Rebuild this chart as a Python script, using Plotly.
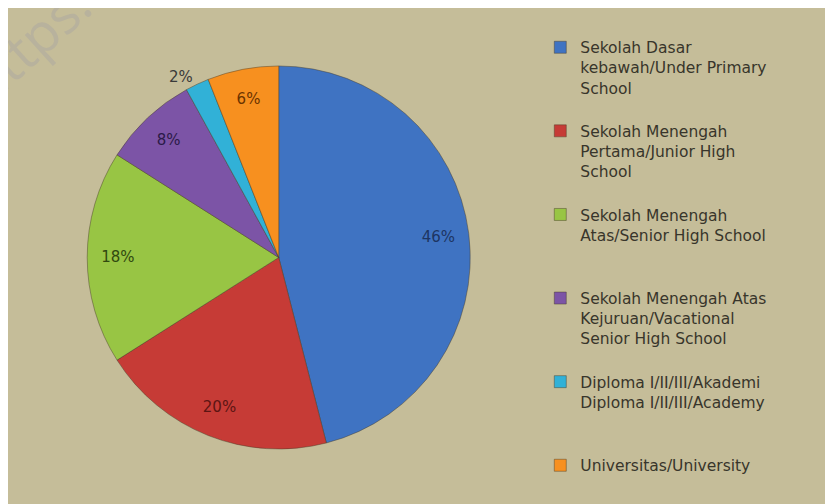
import plotly.graph_objects as go

# education level shares (%)
categories = [
    "Sekolah Dasar<br>kebawah/Under Primary<br>School<br> ",
    "Sekolah Menengah<br>Pertama/Junior High<br>School<br> ",
    "Sekolah Menengah<br>Atas/Senior High School<br> <br> ",
    "Sekolah Menengah Atas<br>Kejuruan/Vacational<br>Senior High School<br> ",
    "Diploma I/II/III/Akademi<br>Diploma I/II/III/Academy<br> <br> ",
    "Universitas/University",
]
shares = [46, 20, 18, 8, 2, 6]
labels_txt = ["46%", "20%", "18%", "8%", "2%", "6%"]

colors = ["#3f73c2", "#c63b36", "#98c544", "#7c54a6", "#31b1d7", "#f7901f"]
text_colors = ["#1d3563", "#5c1513", "#30490f", "#2b1a48", "#3a3a3a", "#6b3300"]

bg = "#c5bd99"
pie_domain = dict(x=[0.07, 0.58], y=[0.125, 0.885])

fig = go.Figure()

# the slices
fig.add_trace(go.Pie(
    labels=categories,
    values=shares,
    textinfo="none",
    sort=False,
    direction="clockwise",
    rotation=0,
    marker=dict(colors=colors, line=dict(color="rgba(70,60,40,0.45)", width=1)),
    domain=pie_domain,
    hoverinfo="label+percent",
))

# transparent ring on top so the % labels sit near the rim, like Excel does
fig.add_trace(go.Pie(
    labels=categories,
    values=shares,
    text=labels_txt,
    textinfo="text",
    textposition=["inside", "inside", "inside", "inside", "outside", "inside"],
    insidetextorientation="horizontal",
    textfont=dict(family="DejaVu Sans", size=15, color=text_colors),
    outsidetextfont=dict(family="DejaVu Sans", size=15, color="#3a3a3a"),
    hole=0.68,
    sort=False,
    direction="clockwise",
    rotation=0,
    marker=dict(colors=["rgba(0,0,0,0)"] * len(shares), line=dict(width=0)),
    domain=pie_domain,
    showlegend=False,
    hoverinfo="skip",
))

# faint watermark in the corner
fig.add_annotation(
    text="https.", x=0.024, y=0.93, xref="paper", yref="paper",
    showarrow=False, textangle=-42, xanchor="center", yanchor="middle",
    font=dict(family="Open Sans", size=54, color="#b8b29d"),
)

fig.update_layout(
    width=833,
    height=504,
    paper_bgcolor=bg,
    margin=dict(l=0, r=0, t=0, b=0),
    font=dict(family="DejaVu Sans", color="#3a3a3a"),
    legend=dict(
        x=0.639, y=0.955, xanchor="left", yanchor="top",
        valign="top",
        font=dict(family="DejaVu Sans", size=15.5, color="#38352b"),
        bgcolor="rgba(0,0,0,0)",
        itemwidth=30,
    ),
)

fig.write_html("out.html")
